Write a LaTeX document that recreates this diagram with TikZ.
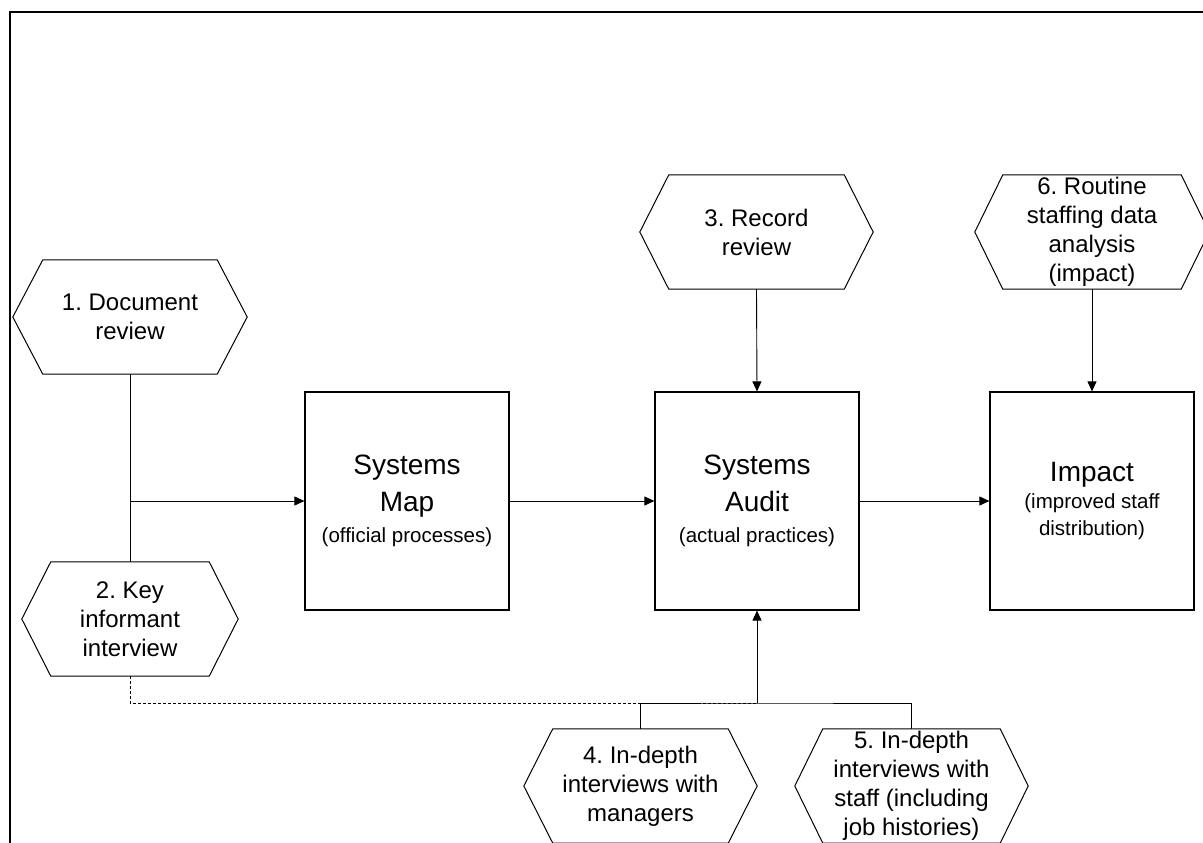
\documentclass[tikz,border=0pt]{standalone}
\usepackage{fontspec}
\setmainfont{Liberation Sans}
\usetikzlibrary{arrows.meta,calc}
\frenchspacing
\newcommand\hexof[2]{\draw[hexline] (#1.west) -- ([xshift=#2]#1.north west) -- ([xshift=-#2]#1.north east) -- (#1.east) -- ([xshift=-#2]#1.south east) -- ([xshift=#2]#1.south west) -- cycle;}
\begin{document}
\begin{tikzpicture}[x=1pt,y=-1pt,
  hexnode/.style={inner sep=0pt, minimum width=234pt, minimum height=114pt, align=center, font=\fontsize{24}{29}\selectfont},
  hexline/.style={draw=black, line width=1pt, line join=miter},
  boxnode/.style={draw=black, line width=1.2pt, inner sep=0pt, minimum width=204pt, minimum height=218pt, align=center, font=\fontsize{28}{37}\selectfont},
  conn/.style={draw=black, line width=0.9pt},
  arr/.style={conn, -{Triangle[length=10pt,width=9pt]}},
  dconn/.style={conn, dash pattern=on 3pt off 2pt}]
\useasboundingbox (0,0) rectangle (1203,843);
\clip (0,0) rectangle (1203,843);
% frame
\draw[line width=2.8pt] (10,845) -- (10,12) -- (1206,12);
% hexagons
\node[hexnode] (h1) at (130,317) {1. Document\\review};
\node[hexnode, minimum width=216pt] (h2) at (130,619) {2. Key\\informant\\interview};
\node[hexnode, minimum width=233pt] (h3) at (756.5,232) {3. Record\\review};
\node[hexnode, minimum width=233pt] (h4) at (640.5,786) {4. In-depth\\interviews with\\managers};
\node[hexnode, minimum width=233pt] (h5) at (911.5,786) {5. In-depth\\interviews with\\staff (including\\job histories)};
\node[hexnode] (h6) at (1092,232) {6. Routine\\staffing data\\analysis\\(impact)};
\hexof{h1}{30pt}
\hexof{h2}{29pt}
\hexof{h3}{29pt}
\hexof{h4}{29pt}
\hexof{h5}{28pt}
\hexof{h6}{28pt}
% boxes
\node[boxnode] (map) at (407,501) {Systems\\Map\\[-6pt]{\fontsize{20.5}{24}\selectfont (official processes)}};
\node[boxnode] (audit) at (757,501) {Systems\\Audit\\[-6pt]{\fontsize{20.5}{24}\selectfont (actual practices)}};
\node[boxnode] (impact) at (1092,501) {Impact\\[-10pt]{\fontsize{20.5}{24}\selectfont (improved staff}\\[-10pt]{\fontsize{20.5}{24}\selectfont distribution)}};
% connectors
\coordinate (jd) at (757,703);
\draw[conn] (h1.south) -- (h2.north);
\draw[arr] (h1.south |- map.west) -- (map.west);
\draw[arr] (map.east) -- (audit.west);
\draw[arr] (audit.east) -- (impact.west);
\draw[arr] (h3.south) -- (audit.north);
\draw[arr] (h6.south) -- (impact.north);
\draw[dconn] (h2.south) |- (jd);
\draw[conn] (h4.north) |- (jd) -| (h5.north);
\draw[arr] (jd) -- (audit.south);
\end{tikzpicture}
\end{document}
